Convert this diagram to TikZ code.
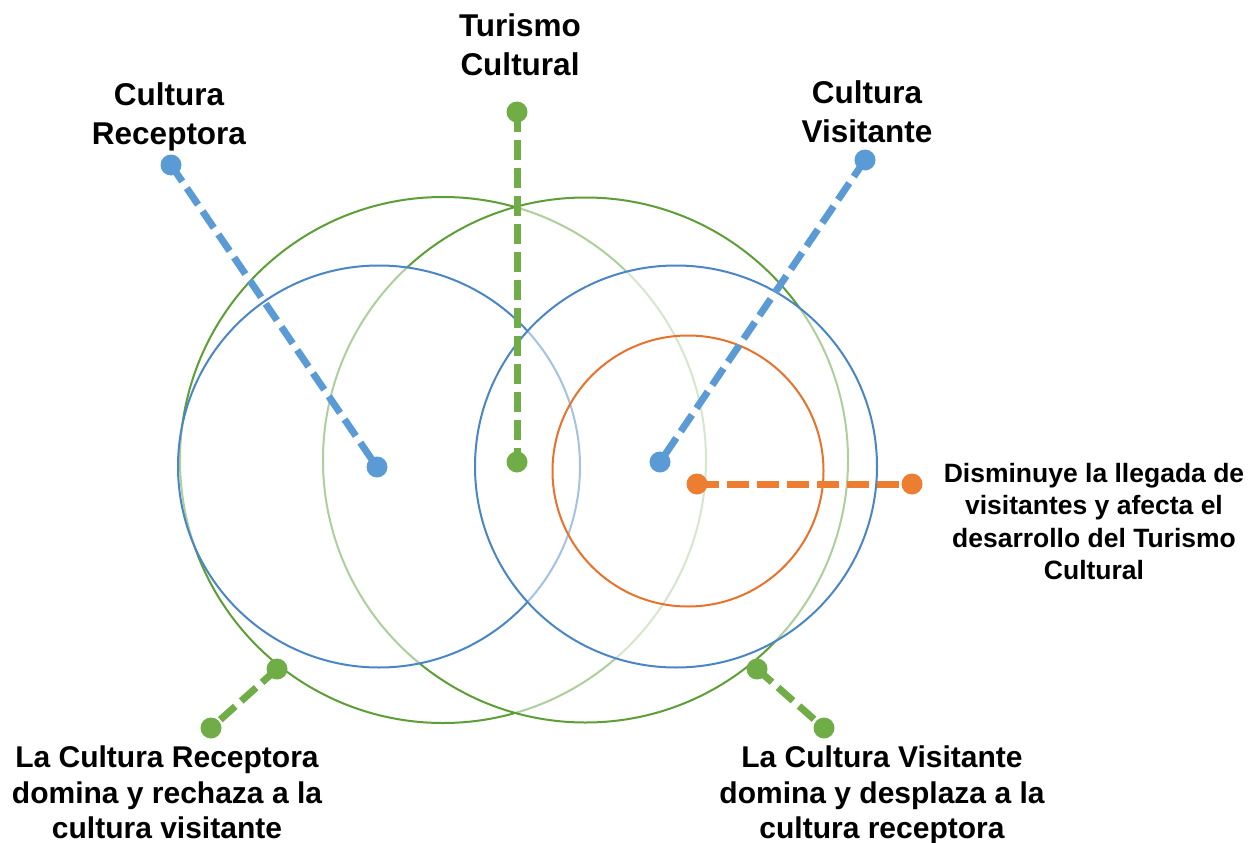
\documentclass[tikz,border=0pt]{standalone}
\usepackage{fontspec}
\setmainfont{Liberation Sans}
\definecolor{cblue}{HTML}{4A86C6}
\definecolor{dblue}{HTML}{5B9BD5}
\definecolor{cgreen}{HTML}{5E9E37}
\definecolor{dgreen}{HTML}{70AD47}
\definecolor{corange}{HTML}{E8722B}
\definecolor{dorange}{HTML}{ED7D31}
\begin{document}
\begin{tikzpicture}[x=1pt,y=-1pt,
  ring/.style={line width=2pt},
  veil/.style={ring, fill=white, fill opacity=0.5},
  conn/.style={line width=7pt, dash pattern=on 20pt off 8pt},
  dot/.style={circle, fill=#1, inner sep=0pt, minimum size=21pt},
  toplbl/.style={align=center, anchor=north, inner sep=0pt, font=\fontsize{31.5}{39}\selectfont\bfseries},
  botlbl/.style={align=center, anchor=north, inner sep=0pt, font=\fontsize{30}{35.5}\selectfont\bfseries},
  sidelbl/.style={align=center, anchor=north, inner sep=0pt, font=\fontsize{26.5}{32.5}\selectfont\bfseries}
]
\useasboundingbox[fill=white] (0,0) rectangle (1256,843);

% circles, layered with translucent white fills
\draw[ring, cgreen] (443,460) circle[radius=263];
\draw[veil, draw=cgreen] (585.5,460) circle[radius=262.5];
\draw[veil, draw=cblue] (379,466.5) circle[radius=201];
\draw[veil, draw=cblue] (676,466.5) circle[radius=201];
\draw[ring, corange] (688,471) circle[radius=135.5];

% dots
\node[dot=dblue] (crTop) at (171,165) {};
\node[dot=dblue] (crIn) at (377,467) {};
\node[dot=dgreen] (tcTop) at (517,112) {};
\node[dot=dgreen] (tcIn) at (517,462) {};
\node[dot=dblue] (cvTop) at (865,160) {};
\node[dot=dblue] (cvIn) at (660,462) {};
\node[dot=dorange] (orIn) at (697,484) {};
\node[dot=dorange] (orOut) at (912,484) {};
\node[dot=dgreen] (blIn) at (277,669) {};
\node[dot=dgreen] (blOut) at (211,728) {};
\node[dot=dgreen] (brIn) at (757,669) {};
\node[dot=dgreen] (brOut) at (824,728) {};

% connectors
\draw[conn, dblue] (crTop.center) -- (crIn.center);
\draw[conn, dgreen] (tcTop.center) -- (tcIn.center);
\draw[conn, dblue] (cvTop.center) -- (cvIn.center);
\draw[conn, dorange, dash pattern=on 22pt off 8pt] (orIn.center) -- (orOut.center);
\draw[conn, dgreen] (blIn.center) -- (blOut.center);
\draw[conn, dgreen] (brIn.center) -- (brOut.center);

% labels
\node[toplbl] (cr) at (169,82) {Cultura\\Receptora};
\node[toplbl] (tc) at (520,13) {Turismo\\Cultural};
\node[toplbl] (cv) at (867,80) {Cultura\\Visitante};
\node[sidelbl] (dis) at (1094,463) {Disminuye la llegada de\\visitantes y afecta el\\desarrollo del Turismo\\Cultural};
\node[botlbl] (bl) at (167,746) {La Cultura Receptora\\domina y rechaza a la\\cultura visitante};
\node[botlbl] (br) at (882,746) {La Cultura Visitante\\domina y desplaza a la\\cultura receptora};
\end{tikzpicture}
\end{document}
